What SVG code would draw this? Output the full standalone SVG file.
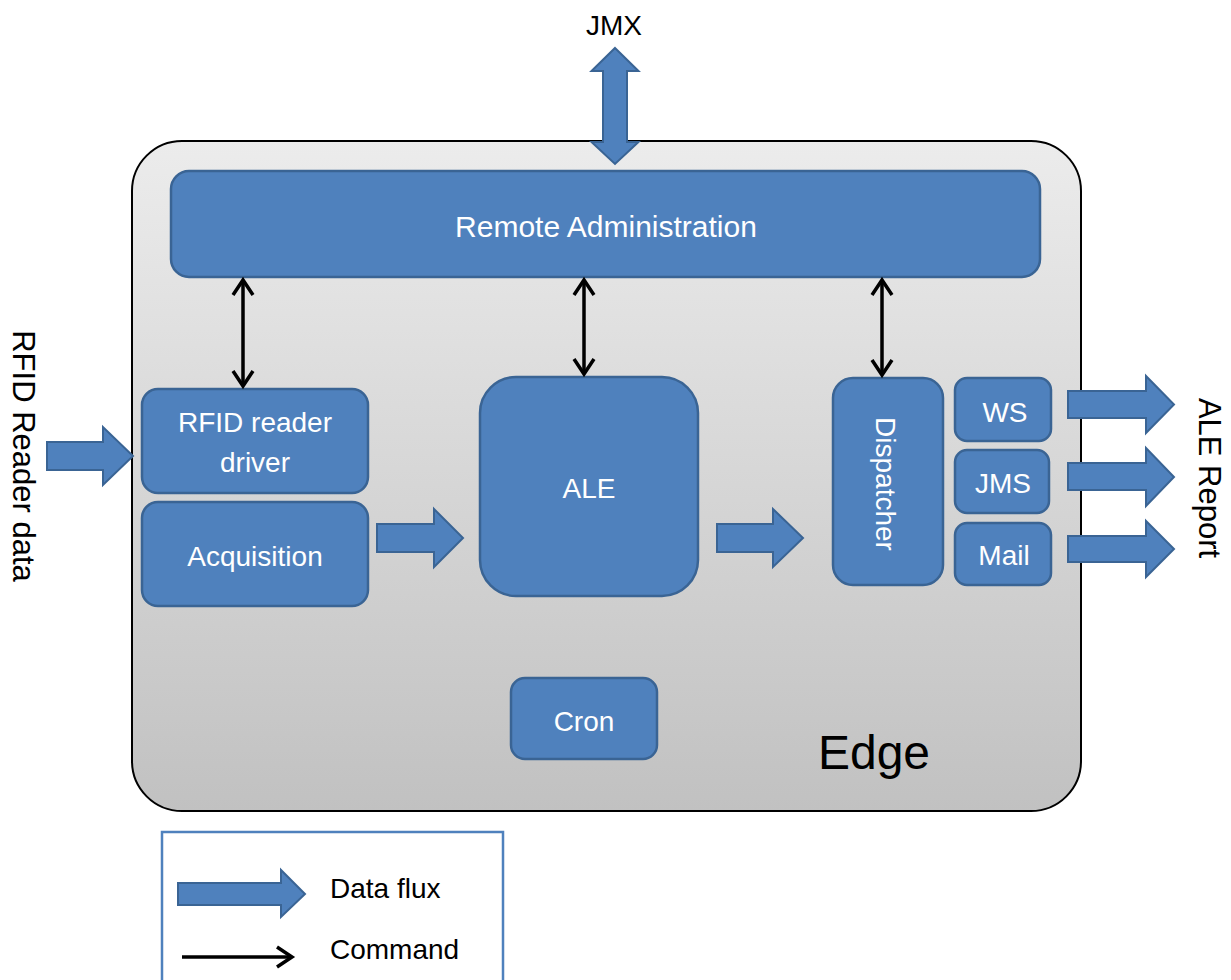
<svg xmlns="http://www.w3.org/2000/svg" width="1231" height="980" viewBox="0 0 1231 980">
<defs>
<linearGradient id="bg" x1="0" y1="0" x2="0" y2="1">
<stop offset="0" stop-color="#ececec"/>
<stop offset="1" stop-color="#c1c1c1"/>
</linearGradient>
<marker id="cmd" viewBox="-20 -13 24 26" markerWidth="24" markerHeight="26" refX="0" refY="0" orient="auto-start-reverse" markerUnits="userSpaceOnUse">
<path d="M-15,-10 L0,0 L-15,10" fill="none" stroke="#000" stroke-width="3.5"/>
</marker>
<style>
.box{fill:#4f81bd;stroke:#3a6494;stroke-width:2.5}
.fat{fill:#4f81bd;stroke:#3a6494;stroke-width:2}
.cmd{fill:none;stroke:#000;stroke-width:3.5}
.wt{font-family:"Liberation Sans",Arial,sans-serif;fill:#fff;font-size:28px;text-anchor:middle}
.bt{font-family:"Liberation Sans",Arial,sans-serif;fill:#000;font-size:28px}
</style>
</defs>
<rect width="1231" height="980" fill="#fff"/>

<g id="edge">
<rect x="132" y="141" width="949" height="670" rx="50" ry="50" fill="url(#bg)" stroke="#000" stroke-width="2"/>
<text class="bt" x="874" y="769" style="font-size:48px" text-anchor="middle">Edge</text>
</g>

<g id="remote-admin">
<rect class="box" x="171" y="171" width="869" height="106" rx="18"/>
<text class="wt" x="606" y="237" style="font-size:30px">Remote Administration</text>
</g>

<g id="rfid-driver">
<rect class="box" x="142" y="389" width="226" height="104" rx="16"/>
<text class="wt" x="255" y="432">RFID reader</text>
<text class="wt" x="255" y="472">driver</text>
</g>

<g id="acquisition">
<rect class="box" x="142" y="502" width="226" height="104" rx="16"/>
<text class="wt" x="255" y="566">Acquisition</text>
</g>

<g id="ale">
<rect class="box" x="480" y="377" width="218" height="219" rx="36"/>
<text class="wt" x="589" y="498">ALE</text>
</g>

<g id="dispatcher">
<rect class="box" x="833" y="378" width="110" height="207" rx="20"/>
<text class="wt" transform="translate(876,484) rotate(90)">Dispatcher</text>
</g>

<g id="ws">
<rect class="box" x="955" y="378" width="96" height="63" rx="12"/>
<text class="wt" x="1005" y="422">WS</text>
</g>

<g id="jms">
<rect class="box" x="955" y="450" width="94" height="63" rx="12"/>
<text class="wt" x="1003" y="493">JMS</text>
</g>

<g id="mail">
<rect class="box" x="955" y="523" width="96" height="62" rx="12"/>
<text class="wt" x="1004" y="565">Mail</text>
</g>

<g id="cron">
<rect class="box" x="511" y="678" width="146" height="81" rx="14"/>
<text class="wt" x="584" y="731">Cron</text>
</g>

<g id="labels">
<text class="bt" x="614" y="35" text-anchor="middle">JMX</text>
<text class="bt" style="font-size:31px" text-anchor="middle" transform="translate(13,456) rotate(90)">RFID Reader data</text>
<text class="bt" style="font-size:31px" text-anchor="middle" transform="translate(1199,478) rotate(90)">ALE Report</text>
</g>

<g id="connectors">
<polygon class="fat" points="615,48 638.5,71 627,71 627,142 638.5,142 615,164 591.5,142 603,142 603,71 591.5,71"/>
<polygon class="fat" points="47,442 103,442 103,427 133,456 103,485 103,470 47,470"/>
<polygon class="fat" points="377,524 434,524 434,509 463,538 434,567 434,552 377,552"/>
<polygon class="fat" points="717,524 773,524 773,509 803,538 773,567 773,552 717,552"/>
<polygon class="fat" points="1068,391 1146,391 1146,376 1174,404.5 1146,433 1146,418 1068,418"/>
<polygon class="fat" points="1068,463 1146,463 1146,448 1174,477 1146,506 1146,490 1068,490"/>
<polygon class="fat" points="1068,536 1146,536 1146,521 1174,549 1146,577 1146,562 1068,562"/>
<line class="cmd" x1="243" y1="280" x2="243" y2="386" marker-start="url(#cmd)" marker-end="url(#cmd)"/>
<line class="cmd" x1="584" y1="280" x2="584" y2="374" marker-start="url(#cmd)" marker-end="url(#cmd)"/>
<line class="cmd" x1="882" y1="280" x2="882" y2="375" marker-start="url(#cmd)" marker-end="url(#cmd)"/>
</g>

<g id="legend">
<rect x="162" y="832" width="341" height="170" fill="#fff" stroke="#4f81bd" stroke-width="2.5"/>
<polygon class="fat" points="178,883 281,883 281,870 305,894 281,917 281,905 178,905"/>
<text class="bt" x="330" y="898">Data flux</text>
<line class="cmd" x1="182" y1="957" x2="292" y2="957" marker-end="url(#cmd)"/>
<text class="bt" x="330" y="959">Command</text>
</g>
</svg>
